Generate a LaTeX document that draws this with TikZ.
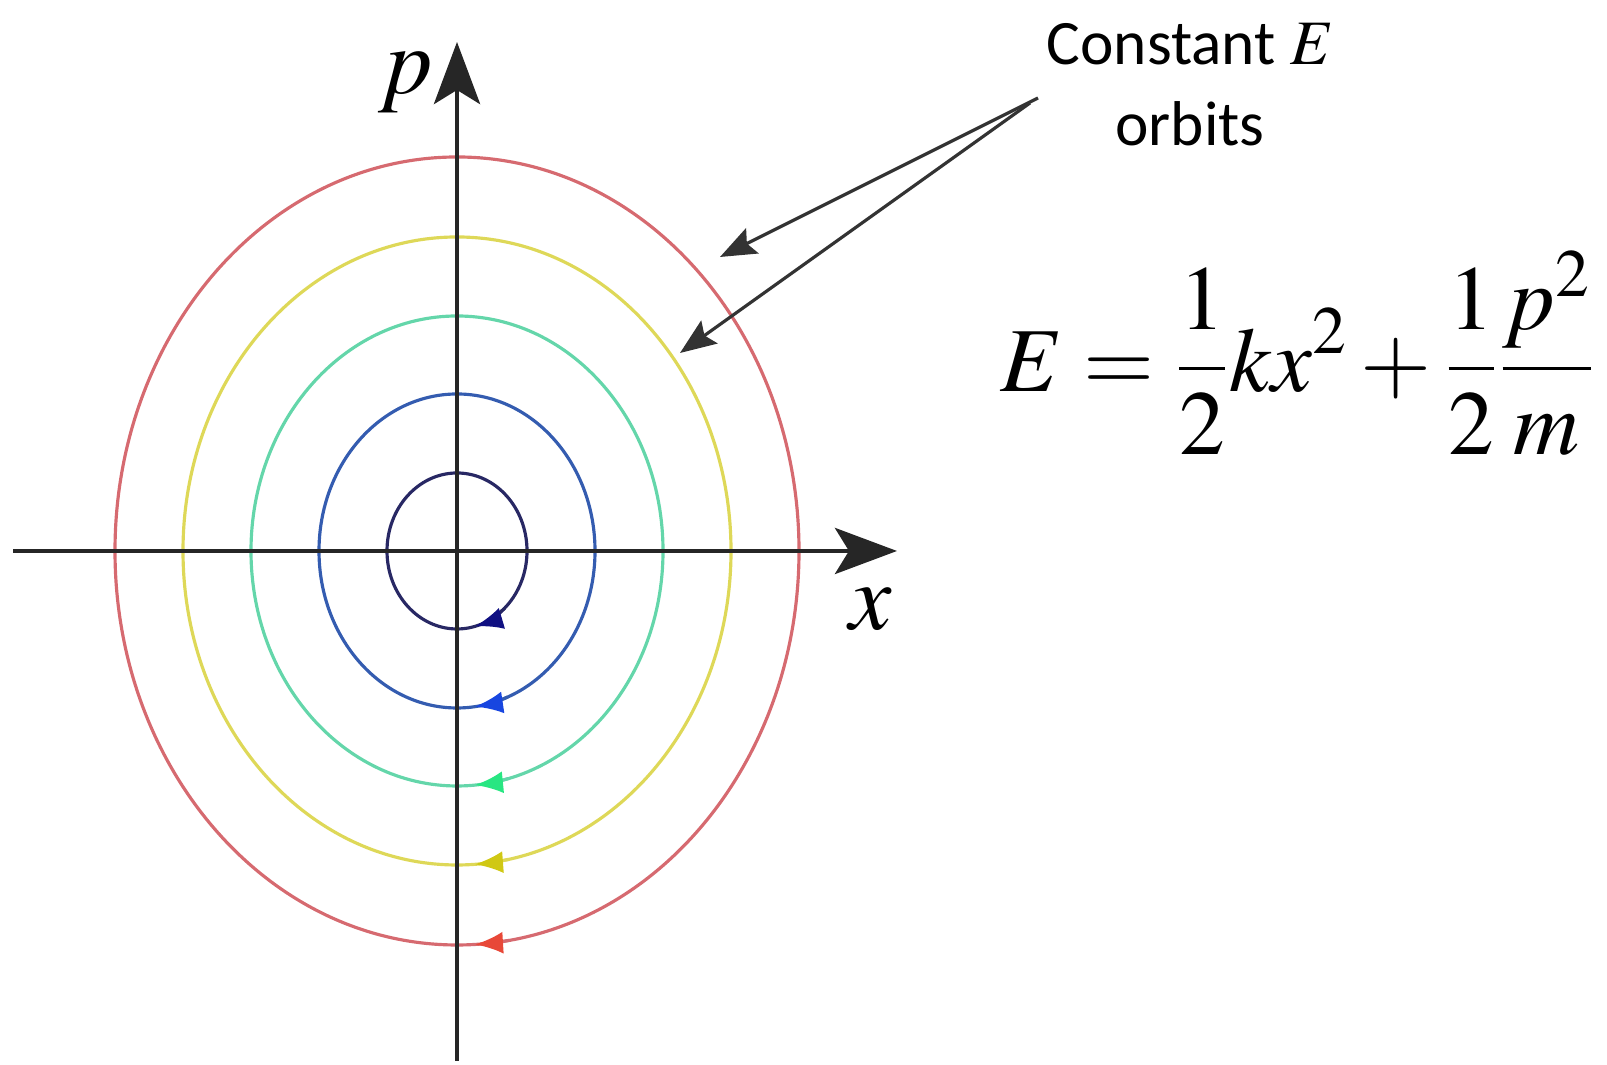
\documentclass[tikz,border=0pt]{standalone}
\usepackage{amsmath}
\usepackage{mathptmx}
\usepackage[no-math]{fontspec}
\usepackage{tikz}
\usetikzlibrary{arrows.meta, calc}
\newfontfamily\labelfont{Carlito}
\definecolor{redline}{RGB}{214,106,112}
\definecolor{yellowline}{RGB}{222,216,88}
\definecolor{greenline}{RGB}{100,214,170}
\definecolor{blueline}{RGB}{52,92,176}
\definecolor{navyline}{RGB}{40,40,100}
\definecolor{redarr}{RGB}{232,72,56}
\definecolor{yellowarr}{RGB}{208,200,20}
\definecolor{greenarr}{RGB}{40,230,130}
\definecolor{bluearr}{RGB}{24,70,224}
\definecolor{navyarr}{RGB}{16,16,130}
\tikzset{
  axis/.style={line width=1.4pt, black!85, -{Stealth[length=0.62cm, width=0.46cm, inset=0.14cm]}},
  orbit/.style={line width=0.9pt},
  pointer/.style={line width=0.9pt, black!80, -{Stealth[length=0.36cm, width=0.28cm, inset=0.06cm]}},
  bigmath/.style={font=\fontsize{27}{32}\selectfont}
}
\begin{document}
\begin{tikzpicture}[x=0.01cm, y=0.01cm]
  \useasboundingbox (0,0) rectangle (1607,1065);
  \coordinate (o) at (457,514);
  \coordinate (xl) at (13,514);
  \coordinate (xr) at (897,514);
  \coordinate (pb) at (457,4);
  \coordinate (pt) at (457,1023);
  \foreach \rx/\ry/\lc/\ac in {342/394/redline/redarr, 274/314/yellowline/yellowarr,
      206/235/greenline/greenarr, 138/157/blueline/bluearr, 70/78/navyline/navyarr} {
    \pgfmathsetmacro\tipa{270+asin(18/\rx)}
    \pgfmathsetmacro\taila{\tipa+deg(34/\rx)}
    \draw[orbit, \lc] (o) ellipse [x radius=\rx, y radius=\ry];
    \draw[orbit, \lc, -{Latex[length=0.28cm, width=0.22cm, color=\ac]}]
      ($(o)+({\rx*cos(\taila)},{\ry*sin(\taila)})$) arc [start angle=\taila, end angle=\tipa, x radius=\rx, y radius=\ry];
  }
  \draw[axis] (xl) -- (xr);
  \draw[axis] (pb) -- (pt);
  \node[bigmath] (plab) at (406,982) {$p$};
  \node[bigmath] (xlab) at (871,456) {$x$};
  \node[font=\labelfont\fontsize{18}{23}\selectfont, align=center] (orb) at (1190,980)
    {Constant $E$\\orbits};
  \coordinate (s1) at (1038,967);
  \coordinate (s2) at (1030,962);
  \coordinate (e1) at (720,808);
  \coordinate (e2) at (680,712);
  \draw[pointer] (s1) -- (e1);
  \draw[pointer] (s2) -- (e2);
  \node[bigmath, font=\fontsize{26}{31}\selectfont] (energy) at (1298,712)
    {$\displaystyle E=\frac{1}{2}kx^{2}+\frac{1}{2}\frac{p^{2}}{m}$};
\end{tikzpicture}
\end{document}
